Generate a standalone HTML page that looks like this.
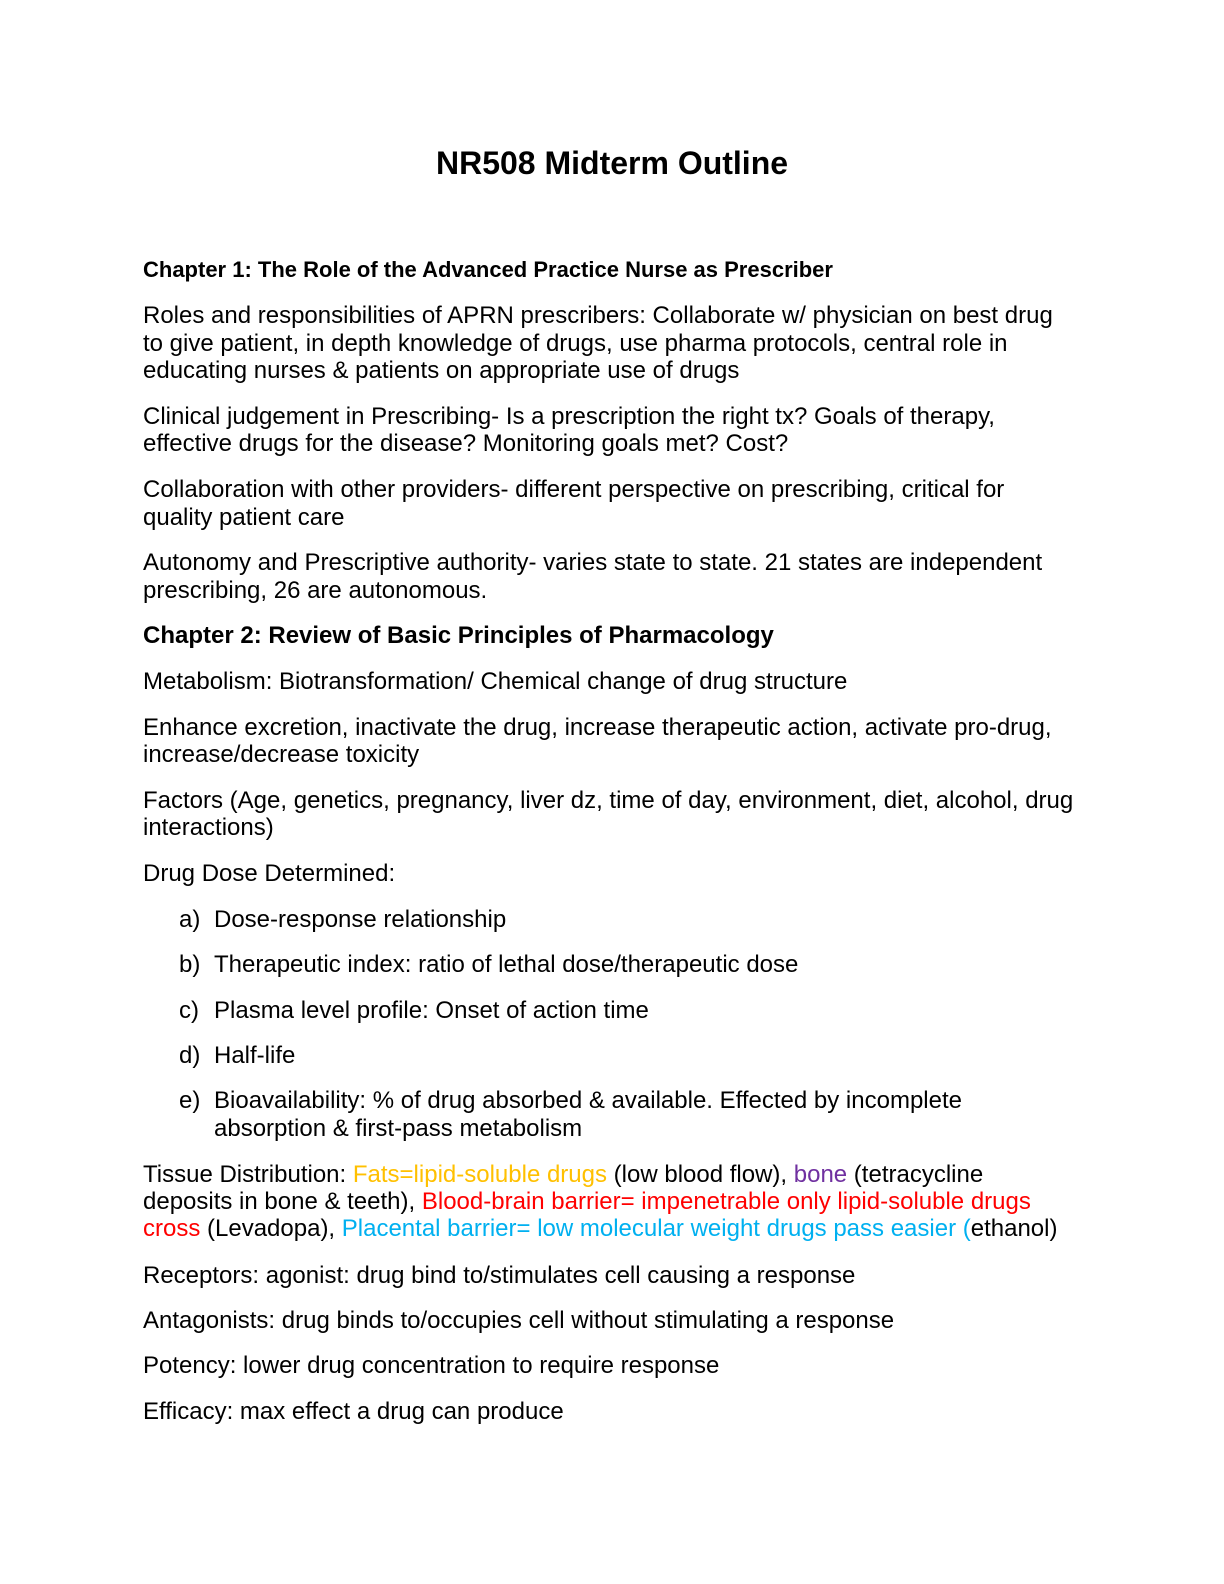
<!DOCTYPE html>
<html><head><meta charset="utf-8"><style>
body{margin:0;background:#fff;}
.p{position:relative;width:1224px;height:1584px;font-family:"Liberation Sans",sans-serif;color:#000;}
.l{position:absolute;left:143px;font-size:24px;line-height:28px;white-space:nowrap;}
.b{font-weight:bold;}
.o{color:#ffc000}.pu{color:#7030a0}.r{color:#ff0000}.bl{color:#00b0f0}
.li{position:absolute;left:179px;font-size:24px;line-height:28px;white-space:nowrap;}
.lt{position:absolute;left:214px;font-size:24px;line-height:28px;white-space:nowrap;}
</style></head><body><div class="p">
<div class="l b" style="left:0;width:1224px;text-align:center;top:146px;font-size:32px;line-height:34px">NR508 Midterm Outline</div>
<div class="l b" style="top:257px;font-size:22px;line-height:26px">Chapter 1: The Role of the Advanced Practice Nurse as Prescriber</div>
<div class="l" style="top:302px">Roles and responsibilities of APRN prescribers: Collaborate w/ physician on best drug</div>
<div class="l" style="top:330px">to give patient, in depth knowledge of drugs, use pharma protocols, central role in</div>
<div class="l" style="top:357px">educating nurses &amp; patients on appropriate use of drugs</div>
<div class="l" style="top:403px">Clinical judgement in Prescribing- Is a prescription the right tx? Goals of therapy,</div>
<div class="l" style="top:430px">effective drugs for the disease? Monitoring goals met? Cost?</div>
<div class="l" style="top:476px">Collaboration with other providers- different perspective on prescribing, critical for</div>
<div class="l" style="top:504px">quality patient care</div>
<div class="l" style="top:549px">Autonomy and Prescriptive authority- varies state to state. 21 states are independent</div>
<div class="l" style="top:577px">prescribing, 26 are autonomous.</div>
<div class="l b" style="top:622px">Chapter 2: Review of Basic Principles of Pharmacology</div>
<div class="l" style="top:668px">Metabolism: Biotransformation/ Chemical change of drug structure</div>
<div class="l" style="top:714px">Enhance excretion, inactivate the drug, increase therapeutic action, activate pro-drug,</div>
<div class="l" style="top:741px">increase/decrease toxicity</div>
<div class="l" style="top:787px">Factors (Age, genetics, pregnancy, liver dz, time of day, environment, diet, alcohol, drug</div>
<div class="l" style="top:814px">interactions)</div>
<div class="l" style="top:860px">Drug Dose Determined:</div>
<div class="li" style="top:906px">a)</div><div class="lt" style="top:906px">Dose-response relationship</div>
<div class="li" style="top:951px">b)</div><div class="lt" style="top:951px">Therapeutic index: ratio of lethal dose/therapeutic dose</div>
<div class="li" style="top:997px">c)</div><div class="lt" style="top:997px">Plasma level profile: Onset of action time</div>
<div class="li" style="top:1042px">d)</div><div class="lt" style="top:1042px">Half-life</div>
<div class="li" style="top:1087px">e)</div><div class="lt" style="top:1087px">Bioavailability: % of drug absorbed &amp; available. Effected by incomplete</div>
<div class="lt" style="top:1115px">absorption &amp; first-pass metabolism</div>
<div class="l" style="top:1161px">Tissue Distribution: <span class="o">Fats=lipid-soluble drugs</span> (low blood flow), <span class="pu">bone</span> (tetracycline</div>
<div class="l" style="top:1188px">deposits in bone &amp; teeth), <span class="r">Blood-brain barrier= impenetrable only lipid-soluble drugs</span></div>
<div class="l" style="top:1215px"><span class="r">cross</span> (Levadopa), <span class="bl">Placental barrier= low molecular weight drugs pass easier (</span>ethanol)</div>
<div class="l" style="top:1262px">Receptors: agonist: drug bind to/stimulates cell causing a response</div>
<div class="l" style="top:1307px">Antagonists: drug binds to/occupies cell without stimulating a response</div>
<div class="l" style="top:1352px">Potency: lower drug concentration to require response</div>
<div class="l" style="top:1398px">Efficacy: max effect a drug can produce</div>
</div></body></html>
